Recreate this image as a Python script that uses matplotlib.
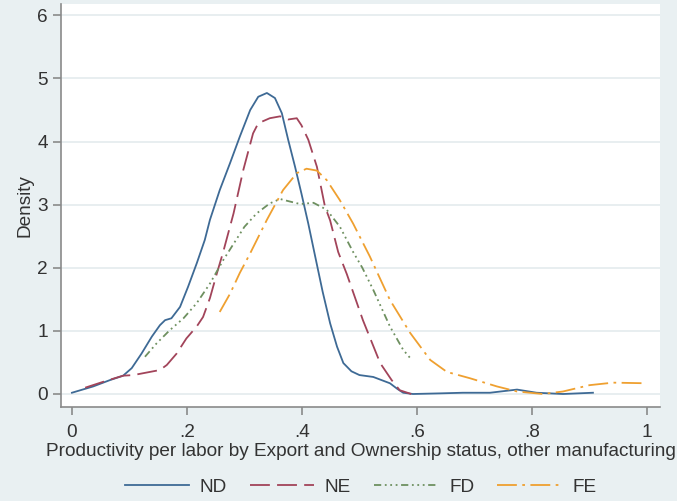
import numpy as np
import matplotlib
matplotlib.use("Agg")
import matplotlib.pyplot as plt
from matplotlib.patches import Rectangle

plt.rcParams['font.family'] = ['Liberation Sans', 'DejaVu Sans']

# kernel density curves
nd_x = [0.0, 0.037, 0.066, 0.089, 0.104, 0.121, 0.139, 0.153, 0.162, 0.173, 0.188, 0.202,
        0.217, 0.231, 0.240, 0.257, 0.275, 0.292, 0.310, 0.324, 0.339, 0.353, 0.365, 0.376,
        0.388, 0.399, 0.411, 0.423, 0.436, 0.449, 0.461, 0.472, 0.486, 0.50, 0.524, 0.553,
        0.566, 0.576, 0.593, 0.64, 0.68, 0.727, 0.755, 0.774, 0.808, 0.854, 0.906]
nd_y = [0.02, 0.12, 0.22, 0.29, 0.41, 0.64, 0.91, 1.09, 1.17, 1.20, 1.38, 1.70,
        2.07, 2.44, 2.76, 3.23, 3.66, 4.08, 4.50, 4.71, 4.77, 4.69, 4.45, 4.03,
        3.60, 3.18, 2.70, 2.18, 1.62, 1.12, 0.75, 0.49, 0.36, 0.30, 0.27, 0.17,
        0.08, 0.02, 0.0, 0.01, 0.02, 0.02, 0.05, 0.07, 0.02, 0.0, 0.02]

ne_x = [0.023, 0.06, 0.089, 0.107, 0.13, 0.153, 0.165, 0.182, 0.199, 0.217, 0.228, 0.240,
        0.252, 0.263, 0.281, 0.298, 0.315, 0.324, 0.344, 0.362, 0.376, 0.391, 0.399, 0.411,
        0.426, 0.44, 0.449, 0.463, 0.478, 0.506, 0.536, 0.556, 0.570, 0.59]
ne_y = [0.10, 0.21, 0.29, 0.30, 0.34, 0.38, 0.46, 0.64, 0.88, 1.07, 1.22, 1.52,
        1.91, 2.25, 2.86, 3.55, 4.13, 4.29, 4.37, 4.40, 4.35, 4.37, 4.26, 4.03,
        3.60, 2.97, 2.75, 2.25, 1.90, 1.17, 0.49, 0.22, 0.06, 0.0]

fd_x = [0.127, 0.147, 0.170, 0.194, 0.217, 0.24, 0.263, 0.286, 0.30, 0.321, 0.344, 0.362,
        0.379, 0.397, 0.42, 0.443, 0.466, 0.489, 0.505, 0.524, 0.553, 0.576, 0.591]
fd_y = [0.59, 0.80, 1.01, 1.20, 1.44, 1.75, 2.12, 2.45, 2.65, 2.86, 3.02, 3.09,
        3.05, 3.01, 3.03, 2.92, 2.65, 2.25, 2.0, 1.65, 1.07, 0.70, 0.54]

fe_x = [0.257, 0.275, 0.292, 0.31, 0.339, 0.367, 0.391, 0.408, 0.426, 0.443, 0.466, 0.489,
        0.518, 0.553, 0.588, 0.623, 0.652, 0.692, 0.739, 0.774, 0.819, 0.854, 0.90, 0.941,
        0.999]
fe_y = [1.30, 1.59, 1.92, 2.23, 2.76, 3.23, 3.50, 3.57, 3.54, 3.39, 3.07, 2.70,
        2.18, 1.49, 0.97, 0.54, 0.35, 0.25, 0.12, 0.04, 0.0, 0.04, 0.14, 0.18,
        0.17]

labels = ["ND", "NE", "FD", "FE"]
x_ticks = [0, 0.2, 0.4, 0.6, 0.8, 1.0]
x_ticklabels = ["0", ".2", ".4", ".6", ".8", "1"]
y_ticks = [0, 1, 2, 3, 4, 5, 6]

bg = "#E9F0F2"
txt = "#333333"
fs = 13.7

fig = plt.figure(figsize=(6.94, 5.01), dpi=100, facecolor=bg)
# white strip on the right edge of the screenshot
fig.patches.append(Rectangle((677 / 694, 0), 1, 1, transform=fig.transFigure,
                             facecolor="white", edgecolor="none", zorder=-1))

ax = fig.add_axes([61 / 694, 94 / 501, 599 / 694, 403 / 501])
ax.set_facecolor("white")

kw = dict(lw=1.3, solid_joinstyle="round", dash_joinstyle="round")
ax.plot(nd_x, nd_y, color="#3E6A95", label=labels[0], **kw)
ax.plot(ne_x, ne_y, color="#A2445A", dashes=(11, 4), label=labels[1], **kw)
ax.plot(fd_x, fd_y, color="#6E9060", dashes=(4, 2, 1, 2, 1, 2, 1, 2), label=labels[2], **kw)
ax.plot(fe_x, fe_y, color="#EFA030", dashes=(11, 3, 1.5, 3), label=labels[3], **kw)

ax.set_xlim(-0.019, 1.0226)
ax.set_ylim(-0.206, 6.18)
ax.set_xticks(x_ticks)
ax.set_xticklabels(x_ticklabels)
ax.set_yticks(y_ticks)
ax.grid(axis="y", color="#E4EBED", lw=1.2)
ax.set_axisbelow(True)

for s in ["top", "right"]:
    ax.spines[s].set_visible(False)
for s in ["left", "bottom"]:
    ax.spines[s].set_color("#8A8A8A")
    ax.spines[s].set_linewidth(1.2)
ax.tick_params(colors="#8A8A8A", labelcolor=txt, labelsize=fs, length=6, width=1.2)
ax.tick_params(axis="x", pad=6)

ax.set_xlabel("Productivity per labor by Export and Ownership status, other manufacturing",
              fontsize=fs, color=txt, labelpad=1.5)
ax.set_ylabel("Density", fontsize=fs, color=txt, labelpad=3)

# legend centred under the plot region
fig.legend(loc="center", bbox_to_anchor=(360.5 / 694, 1 - 487 / 501), ncol=4, frameon=False,
           fontsize=fs, handlelength=3.4, columnspacing=1.2, handletextpad=0.55,
           labelcolor=txt)

fig.savefig("out.png", dpi=100, facecolor=bg)
